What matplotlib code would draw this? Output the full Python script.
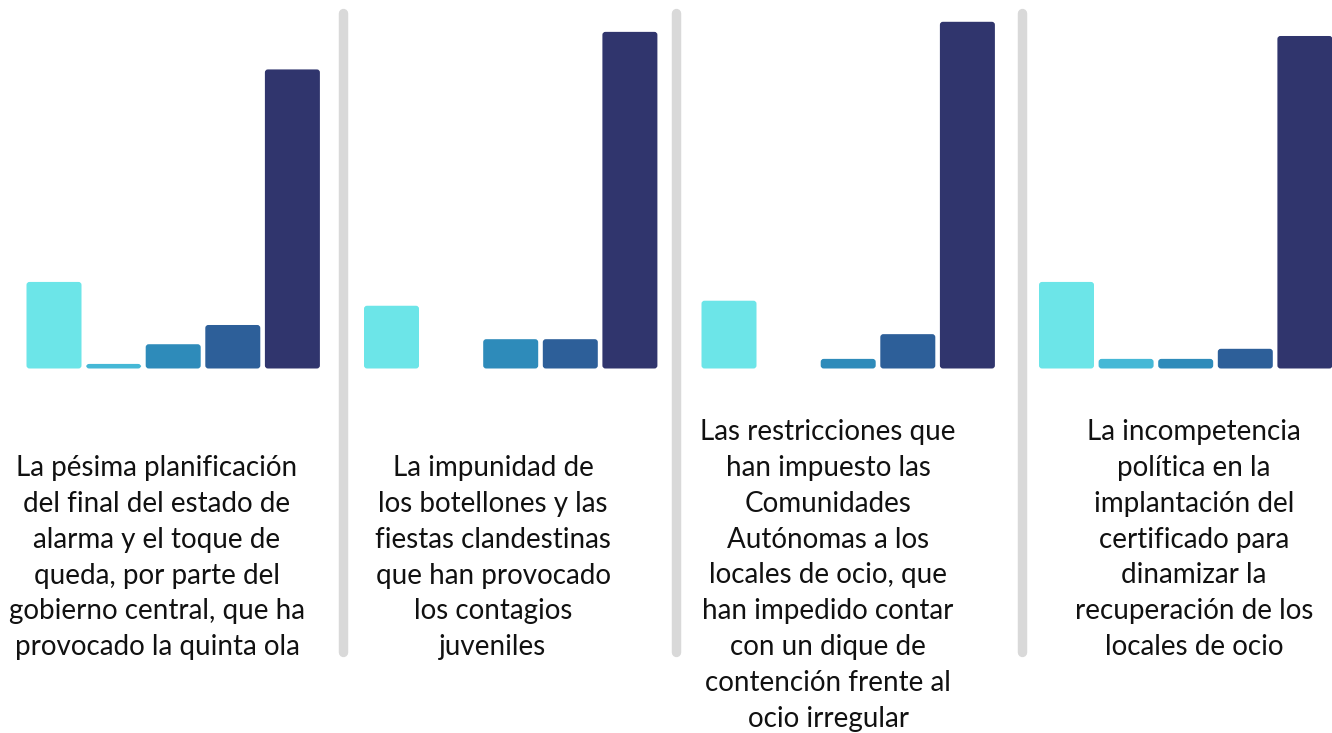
import matplotlib
matplotlib.use('Agg')
import matplotlib.pyplot as plt
from matplotlib.patches import FancyBboxPatch
from matplotlib.lines import Line2D

# valores (%), 5 respuestas por pregunta
preguntas = [
    "La pésima planificación\ndel final del estado de\nalarma y el toque de\nqueda, por parte del\ngobierno central, que ha\nprovocado la quinta ola",
    "La impunidad de\nlos botellones y las\nfiestas clandestinas\nque han provocado\nlos contagios\njuveniles",
    "Las restricciones que\nhan impuesto las\nComunidades\nAutónomas a los\nlocales de ocio, que\nhan impedido contar\ncon un dique de\ncontención frente al\nocio irregular",
    "La incompetencia\npolítica en la\nimplantación del\ncertificado para\ndinamizar la\nrecuperación de los\nlocales de ocio",
]
nada = [18.9, 13.7, 14.8, 18.9]
poco = [1.0, 0.0, 0.0, 2.1]
algo = [5.3, 6.4, 2.1, 2.1]
bastante = [9.5, 6.4, 7.5, 4.3]
mucho = [65.3, 73.5, 75.7, 72.6]

colores = ["#6ce5e8", "#45b8d6", "#2e8bba", "#2d5f99", "#30356d"]

W, H = 1332, 733
base_y = 368.5          # linea base de las barras (px)
px_por_pct = 4.58
grupo_x0 = 26.5
grupo_paso = 337.5
barra_paso = 59.6
barra_ancho = 55

fig = plt.figure(figsize=(W / 100, H / 100), dpi=100)
ax = fig.add_axes([0, 1 - base_y / H, 1, base_y / H])
ax.set_xlim(0, W)
ax.set_ylim(0, base_y / px_por_pct)
ax.axis('off')

series = [nada, poco, algo, bastante, mucho]
for i, (vals, c) in enumerate(zip(series, colores)):
    xs = [grupo_x0 + g * grupo_paso + i * barra_paso for g in range(len(vals))]
    rects = ax.bar(xs, vals, width=barra_ancho, align='edge', color=c)
    for r in rects:
        r.set_visible(False)
        if r.get_height() <= 0:
            continue
        ax.add_patch(FancyBboxPatch((r.get_x(), 0), r.get_width(), r.get_height(),
                                    boxstyle="round,pad=0,rounding_size=3",
                                    mutation_aspect=1 / px_por_pct,
                                    facecolor=c, edgecolor='none'))

# separadores grises
for xs in [342.5, 676, 1022]:
    fig.add_artist(Line2D([xs / W, xs / W], [1 - 13 / H, 1 - 652 / H],
                          color="#d9d9d9", lw=6.8, solid_capstyle='round'))

# textos
text_x = [157, 493, 828, 1194]
text_top = [466, 466, 430, 430]
for txt, x, y in zip(preguntas, text_x, text_top):
    fig.text(x / W, 1 - (y - 11) / H, txt, ha='center', va='top',
             fontsize=20, family='Lato', color='#111111', linespacing=1.47)

fig.savefig('out.png', dpi=100)
